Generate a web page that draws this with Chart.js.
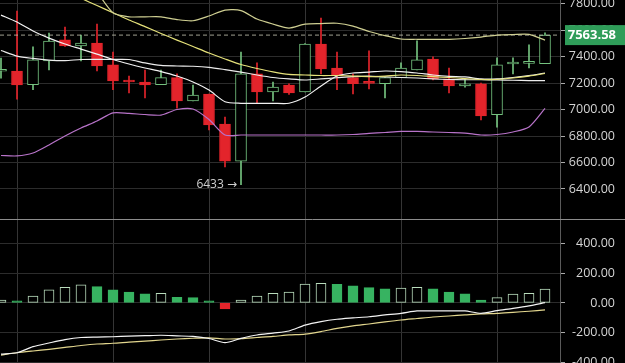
<!DOCTYPE html>
<html lang="en">
  <head>
    <meta charset="UTF-8" />
    <title>BTC candles</title>
    <script src="https://cdn.jsdelivr.net/npm/chart.js"></script>
    <style>
      html,
      body {
        margin: 0;
        padding: 0;
        background: #000;
      }
      .wrap {
        width: 625px;
        height: 363px;
        position: relative;
      }
    </style>
  </head>
  <body>
    <div class="wrap"><canvas id="kline"></canvas></div>

    <script>
      // candles, one per slot
      const opens = [7290, 7292, 7189, 7368, 7527, 7481, 7504, 7338, 7224, 7209, 7189, 7242, 7065, 7118, 6891, 6611, 7270, 7133, 7186, 7133, 7496, 7315, 7242, 7205, 7196, 7242, 7300, 7383, 7232, 7180, 7196, 6961, 7345, 7350, 7347];
      const closes = [7300, 7186, 7376, 7518, 7481, 7504, 7330, 7217, 7209, 7186, 7242, 7065, 7110, 6884, 6611, 7270, 7133, 7171, 7126, 7496, 7307, 7254, 7196, 7198, 7242, 7315, 7376, 7232, 7180, 7196, 6953, 7338, 7353, 7358, 7563.58];
      const highs = [7390, 7745, 7474, 7579, 7625, 7564, 7647, 7436, 7254, 7300, 7300, 7270, 7186, 7118, 6944, 7436, 7353, 7209, 7195, 7500, 7693, 7436, 7270, 7444, 7245, 7353, 7520, 7400, 7315, 7232, 7200, 7391, 7391, 7490, 7580];
      const lows = [7238, 7080, 7151, 7300, 7478, 7368, 7292, 7151, 7126, 7088, 7189, 7012, 7065, 6846, 6566, 6433, 7050, 7065, 7115, 7133, 7270, 7151, 7118, 7156, 7088, 7242, 7300, 7225, 7126, 7170, 6923, 6868, 7270, 7315, 7347];

      // overlay lines on the price panel
      const upperBand = [8480, 8440, 8380, 8300, 8190, 8040, 7890, 7733, 7702, 7702, 7702, 7681, 7672, 7708, 7753, 7749, 7685, 7647, 7617, 7647, 7651, 7653, 7632, 7591, 7560, 7534, 7532, 7532, 7532, 7538, 7549, 7564, 7568, 7569, 7526];
      const slowMa = [8100, 8058, 8003, 7950, 7897, 7842, 7787, 7733, 7678, 7628, 7576, 7526, 7477, 7428, 7383, 7341, 7311, 7285, 7266, 7262, 7258, 7258, 7254, 7250, 7254, 7262, 7258, 7250, 7243, 7235, 7228, 7228, 7239, 7254, 7273];
      const midLine = [7447, 7405, 7387, 7375, 7371, 7379, 7380, 7380, 7379, 7353, 7334, 7330, 7328, 7320, 7303, 7284, 7262, 7243, 7232, 7224, 7232, 7241, 7250, 7254, 7247, 7243, 7239, 7232, 7228, 7226, 7226, 7224, 7222, 7220, 7219];
      const fastMa = [7715, 7662, 7594, 7541, 7496, 7458, 7420, 7379, 7345, 7315, 7288, 7254, 7209, 7148, 7060, 7048, 7048, 7048, 7048, 7095, 7179, 7254, 7277, 7284, 7292, 7288, 7277, 7262, 7252, 7247, 7232, 7232, 7243, 7258, 7277];
      const lowerBand = [6653, 6650, 6672, 6733, 6801, 6861, 6914, 6975, 6971, 6963, 6959, 7001, 7005, 6925, 6808, 6808, 6808, 6808, 6808, 6808, 6808, 6808, 6812, 6820, 6827, 6835, 6835, 6831, 6827, 6823, 6808, 6812, 6831, 6869, 7009];

      // MACD panel
      const macdHist = [20, 14, 47, 88, 106, 122, 110, 88, 74, 61, 65, 38, 36, 14, -41, 20, 47, 65, 74, 128, 133, 126, 115, 103, 95, 101, 106, 95, 74, 61, 20, 36, 59, 65, 93];
      const dif = [-345, -336, -295, -270, -247, -233, -230, -228, -224, -221, -218, -222, -226, -240, -268, -239, -216, -203, -189, -150, -126, -110, -101, -93, -81, -70, -54, -54, -54, -54, -70, -52, -37, -20, 2];
      const dea = [-352, -336, -324, -313, -300, -287, -277, -272, -264, -257, -250, -243, -238, -235, -243, -240, -233, -226, -216, -210, -193, -172, -155, -142, -128, -115, -105, -95, -88, -81, -74, -70, -63, -56, -47];

      const priceTicks = [6400, 6600, 6800, 7000, 7200, 7400, 7600, 7800];
      const macdTicks = [-400, -200, 0, 200, 400];
      const gridSlots = [1, 7, 13, 19, 25, 31];

      const UP = "#74c27f";
      const DOWN = "#e3242b";
      const xMin = -0.0625;
      const xMax = 34.9375;

      const pts = (arr) => arr.map((v, i) => ({ x: i, y: v }));
      const isUp = (i) => closes[i] >= opens[i];
      const lastClose = closes[closes.length - 1];

      const lineSet = (arr, color, axis) => ({
        type: "line",
        data: pts(arr),
        yAxisID: axis,
        borderColor: color,
        borderWidth: 1.2,
        pointRadius: 0,
        tension: 0.25,
        order: -1,
      });

      // right-hand value axis, shared look for both panels
      const valueAxis = (ticksArr, min, max, weight) => ({
        position: "right",
        stack: "panels",
        stackWeight: weight,
        min: min,
        max: max,
        afterBuildTicks: (s) => {
          s.ticks = ticksArr.map((v) => ({ value: v }));
        },
        afterFit: (s) => {
          s.width = 55;
          s.paddingTop = 0;
          s.paddingBottom = 0;
        },
        ticks: {
          color: "#d4d4d4",
          font: { family: "Open Sans", size: 12.5 },
          padding: 3,
          autoSkip: false,
          crossAlign: "far",
          callback: (v) => Number(v).toFixed(2),
        },
        grid: { color: "#2c2c2c", tickColor: "#aaa", tickLength: 5 },
        border: { color: "#5a5a5a" },
      });

      const overlay = {
        id: "overlay",
        afterDraw(chart) {
          const { ctx, scales } = chart;
          const x = scales.x;
          const y = scales.y;
          const y2 = scales.y2;
          ctx.save();

          // panel separator
          const sy = Math.round(y2.top) + 0.5;
          ctx.strokeStyle = "#8c8c8c";
          ctx.lineWidth = 1;
          ctx.beginPath();
          ctx.moveTo(0, sy);
          ctx.lineTo(chart.width, sy);
          ctx.stroke();

          // last price tag
          const py = y.getPixelForValue(lastClose);
          ctx.fillStyle = "#2f9d59";
          ctx.fillRect(y.left + 5, py - 10, chart.width - y.left - 5, 20);
          ctx.fillStyle = "#fff";
          ctx.font = 'bold 13px "Open Sans"';
          ctx.textAlign = "right";
          ctx.textBaseline = "middle";
          ctx.fillText(lastClose.toFixed(2), chart.width - 9, py);

          // lowest low note
          let li = 0;
          lows.forEach((v, i) => {
            if (v < lows[li]) li = i;
          });
          ctx.fillStyle = "#cfcfcf";
          ctx.font = '12px "Open Sans", "DejaVu Sans"';
          ctx.fillText(lows[li] + " \u2192", x.getPixelForValue(li) - 4, y.getPixelForValue(lows[li]));
          ctx.restore();
        },
      };

      new Chart(document.getElementById("kline").getContext("2d"), {
        type: "bar",
        data: {
          datasets: [
            {
              data: opens.map((o, i) => ({ x: i, y: [o, closes[i]] })),
              yAxisID: "y",
              backgroundColor: opens.map((o, i) => (isUp(i) ? "#000" : DOWN)),
              borderColor: opens.map((o, i) => (isUp(i) ? UP : DOWN)),
              borderWidth: 1,
              borderSkipped: false,
              barThickness: 11,
              minBarLength: 2,
              grouped: false,
              order: 0,
            },
            {
              data: lows.map((l, i) => ({ x: i, y: [l, highs[i]] })),
              yAxisID: "y",
              backgroundColor: opens.map((o, i) => (isUp(i) ? UP : DOWN)),
              borderWidth: 0,
              barThickness: 1,
              grouped: false,
              order: 1,
            },
            {
              data: pts(macdHist),
              yAxisID: "y2",
              backgroundColor: macdHist.map((v, i) =>
                v < 0 ? DOWN : i === 0 || v > macdHist[i - 1] ? "#000" : "#37b361"
              ),
              borderColor: macdHist.map((v, i) =>
                v < 0 ? DOWN : i === 0 || v > macdHist[i - 1] ? "#b9dcbc" : "#37b361"
              ),
              borderWidth: 1,
              borderSkipped: false,
              barThickness: 10,
              grouped: false,
              order: 0,
            },
            lineSet(upperBand, "#cfcf92", "y"),
            lineSet(slowMa, "#e6e27a", "y"),
            lineSet(midLine, "#ececec", "y"),
            lineSet(fastMa, "#f2f2f2", "y"),
            lineSet(lowerBand, "#b873c9", "y"),
            lineSet(dif, "#f4f4f4", "y2"),
            lineSet(dea, "#e2d68e", "y2"),
            {
              type: "line",
              data: [
                { x: xMin, y: lastClose },
                { x: xMax, y: lastClose },
              ],
              yAxisID: "y",
              borderColor: "rgba(200,200,180,0.8)",
              borderWidth: 1,
              borderDash: [4, 3],
              pointRadius: 0,
              order: -1,
            },
          ],
        },
        options: {
          responsive: true,
          maintainAspectRatio: false,
          animation: false,
          layout: { padding: { left: 0, top: 0, bottom: 0, right: 10 } },
          plugins: {
            legend: { display: false },
            tooltip: { enabled: false },
          },
          scales: {
            x: {
              type: "linear",
              min: xMin,
              max: xMax,
              offset: false,
              afterBuildTicks: (s) => {
                s.ticks = gridSlots.map((v) => ({ value: v }));
              },
              afterFit: (s) => {
                s.height = 0;
                s.paddingLeft = 0;
                s.paddingRight = 0;
              },
              ticks: { display: false },
              grid: { color: "#353535", drawTicks: false, offset: false },
              border: { display: false },
            },
            y: valueAxis(priceTicks, 6173, 7829, 219),
            y2: valueAxis(macdTicks, -405, 566, 144),
          },
        },
        plugins: [overlay],
      });
    </script>
  </body>
</html>
